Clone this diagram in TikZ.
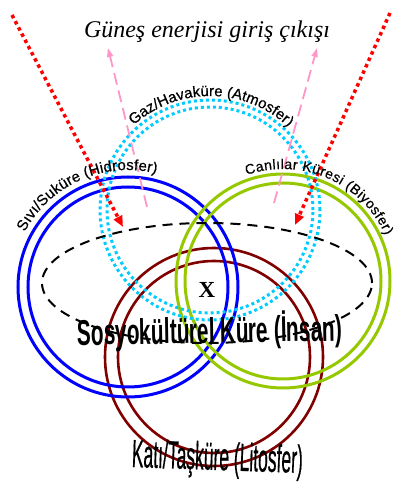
\documentclass[tikz,border=0pt]{standalone}
\usepackage{fontspec}
\usepackage{graphicx}
\setmainfont{Liberation Serif}
\setsansfont{Liberation Sans}
\newfontfamily\arcfont{Liberation Sans}[FakeBold=0.6]
\usetikzlibrary{arrows.meta,decorations.text}

\definecolor{hidroblue}{RGB}{0,0,255}
\definecolor{biyogreen}{RGB}{150,200,0}
\definecolor{litored}{RGB}{128,0,0}
\definecolor{atmocyan}{RGB}{0,204,255}
\definecolor{sunpink}{RGB}{255,150,200}

\begin{document}
\begin{tikzpicture}[
  x=1pt, y=1pt,
  every node/.style={inner sep=0pt},
  shell/.style={line width=3pt},
  airshell/.style={line width=3pt, atmocyan, dash pattern=on 3pt off 3pt},
  sunin/.style={-{Triangle[length=11pt,width=9pt]}, red, line width=3.5pt,
    dash pattern=on 3.5pt off 3.5pt},
  sunout/.style={-{Triangle[length=9pt,width=6pt]}, sunpink, line width=1.8pt,
    dash pattern=on 12pt off 6pt},
  arclabel/.style 2 args={decorate, decoration={text along path, text align=fit to path,
    text={|\arcfont\fontsize{#1}{#1}\selectfont|#2}}}
]
  \useasboundingbox (0,0) rectangle (396,487);

  % Sphere centres
  \coordinate (hidro) at (128,200);
  \coordinate (biyo)  at (283,206);
  \coordinate (lito)  at (214,130);
  \coordinate (atmo)  at (210,277);
  \coordinate (insan) at (207,204);

  % Sun rays
  \coordinate (inL)  at (12,472);
  \coordinate (inLe) at (123,260);
  \coordinate (inR)  at (390,474);
  \coordinate (inRe) at (295,262);
  \coordinate (outL)  at (147,280);
  \coordinate (outLe) at (108,439);
  \coordinate (outR)  at (274,284);
  \coordinate (outRe) at (317,439);

  % Litosfer (double circle)
  \draw[shell, litored, line width=2.6pt] (lito) circle (109);
  \draw[shell, litored, line width=2.6pt] (lito) circle (96);

  % Hidrosfer
  \draw[shell, hidroblue] (hidro) circle (110);
  \draw[shell, hidroblue] (hidro) circle (100);

  % Biyosfer
  \draw[shell, biyogreen] (biyo) circle (107);
  \draw[shell, biyogreen] (biyo) circle (98);

  % Atmosfer (dotted)
  \draw[airshell] (atmo) circle (110);
  \draw[airshell] (atmo) circle (103);

  % Sosyokulturel kure
  \draw[line width=2pt, dash pattern=on 10pt off 7pt] (insan) ellipse [x radius=165, y radius=60];

  % Incoming and outgoing energy
  \draw[sunin] (inL) -- (inLe);
  \draw[sunin] (inR) -- (inRe);
  \draw[sunout] (outL) -- (outLe);
  \draw[sunout] (outR) -- (outRe);

  % Curved labels
  \path[arclabel={15}{Gaz/Havaküre (Atmosfer)}] (atmo) ++(132:114) arc[start angle=132, end angle=47, radius=114];
  \path[arclabel={15}{Sıvı/Suküre (Hidrosfer)}] (hidro) ++(152:117) arc[start angle=152, end angle=76, radius=117];
  \path[arclabel={14}{Canlılar Küresi (Biyosfer)}] (biyo) ++(109:112) arc[start angle=109, end angle=24, radius=112];

  % Labels
  \node[anchor=base, font=\itshape\fontsize{24}{24}\selectfont] (title) at (207,449) {Güneş enerjisi giriş çıkışı};
  \node[font=\bfseries\fontsize{23}{23}\selectfont] (center) at (207,197) {X};
  \node[anchor=base, rotate=1] (insanlabel) at (210,144)
    {\resizebox{265pt}{25pt}{\sffamily\bfseries\smash{Sosyokültürel Küre (İnsan)}\vphantom{S}}};
  \node[anchor=base, rotate=-2] (litolabel) at (217,17)
    {\resizebox{171pt}{27pt}{\sffamily\smash{\arcfont Katı/Taşküre (Litosfer)}\vphantom{K}}};
\end{tikzpicture}
\end{document}
